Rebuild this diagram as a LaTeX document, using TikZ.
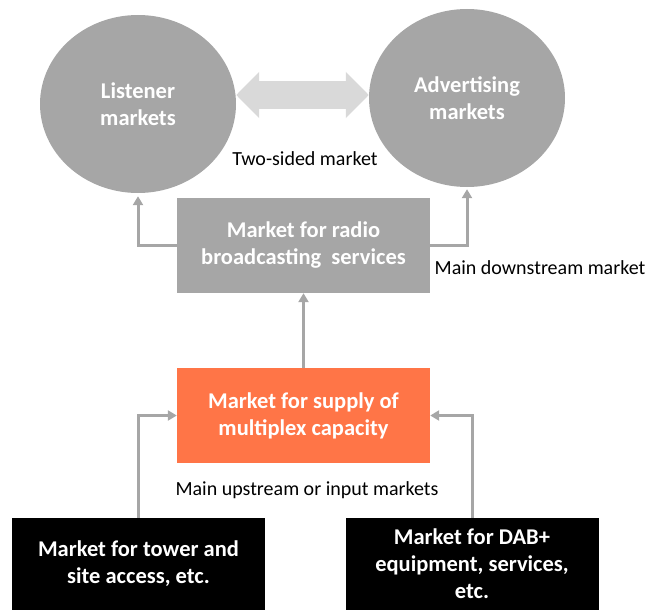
\documentclass[tikz,border=0pt]{standalone}
\usepackage{fontspec}
\setmainfont{Carlito}
\usetikzlibrary{arrows.meta,positioning,shapes.geometric}
\definecolor{mktGray}{HTML}{A6A6A6}
\definecolor{mktLight}{HTML}{D9D9D9}
\definecolor{mktOrange}{HTML}{FF7547}

\begin{document}
\begin{tikzpicture}[x=1pt,y=1pt,on grid,auto]
  \tikzstyle{marketBox} = [rectangle, minimum width=253pt, minimum height=95pt, inner sep=0pt, align=center, text=white, font={\bfseries\fontsize{22.5}{27}\selectfont}]
  \tikzstyle{marketCircle} = [ellipse, fill=mktGray, minimum width=196pt, minimum height=178pt, inner sep=0pt, align=center, text=white, font={\bfseries\fontsize{22.5}{27}\selectfont}]
  \tikzstyle{feedEdge} = [mktGray, line width=3pt, -{Triangle[length=9pt,width=10pt]}];
  \tikzstyle{twoWay} = [mktLight, line width=27pt, {Triangle[length=23pt,width=45pt]}-{Triangle[length=23pt,width=45pt]}];
  \tikzstyle{edgeLabel} = [text centered, font={\fontsize{20}{24}\selectfont}];

  \useasboundingbox (0,0) rectangle (648,-610);

  \node[marketBox,fill=mktGray](rb) at (303.5,-245.5) {Market for radio\\broadcasting\ \ services};
  \node[marketBox,fill=mktOrange](mux) [below=170pt of rb] {Market for supply of\\multiplex capacity};
  \node[marketBox,fill=black,minimum height=92pt](tw) [below left=148.5pt and 165pt of mux] {Market for tower and\\site access, etc.};
  \node[marketBox,fill=black,minimum height=92pt](dab) [below right=148.5pt and 168.5pt of mux] {Market for DAB+\\equipment, services,\\etc.};
  \node[marketCircle](lm) [above left=141.5pt and 165.5pt of rb] {Listener\\markets};
  \node[marketCircle](am) [above left=147.5pt and -163.5pt of rb] {Advertising\\markets};

  % labels
  \coordinate (mid) at (303,-95);
  \node[edgeLabel](twoLbl) at (305,-159) {Two-sided market};
  \node[edgeLabel](downLbl) at (540,-268) {Main downstream market};
  \node[edgeLabel](upLbl) at (307,-490) {Main upstream or input markets};

  \draw[twoWay] (lm.east |- mid) -- (am.west |- mid);
  \draw[feedEdge, shorten >=3pt] (rb.west) -| (lm.south);
  \draw[feedEdge, shorten >=2pt] (rb.east) -| (am.south);
  \draw[feedEdge] (mux.north) -- (rb.south);
  \draw[feedEdge] (tw.north) |- (mux.west);
  \draw[feedEdge] (dab.north) |- (mux.east);
\end{tikzpicture}
\end{document}
